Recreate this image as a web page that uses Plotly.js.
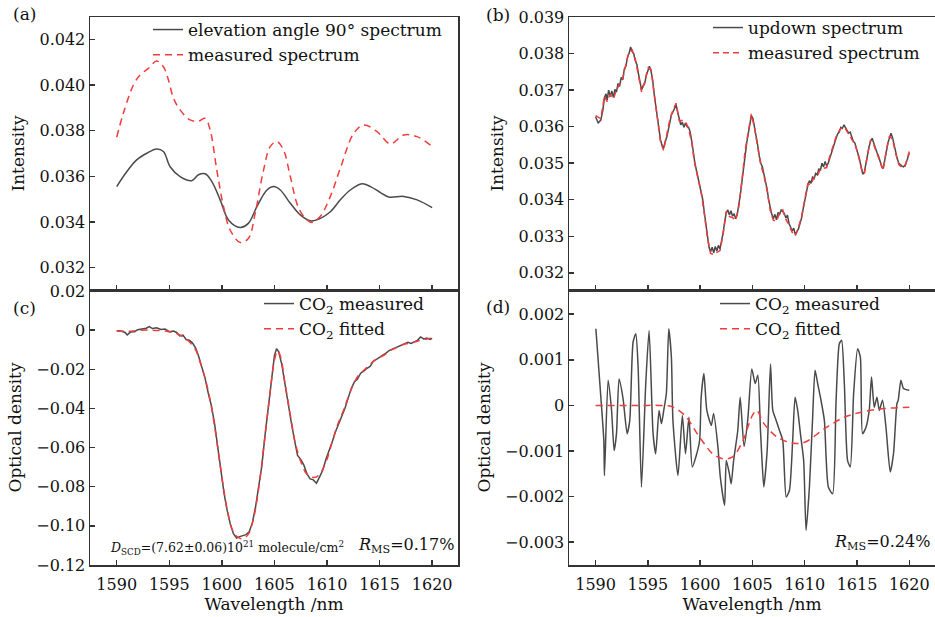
<!DOCTYPE html>
<html><head><meta charset="utf-8">
<script src="https://cdn.plot.ly/plotly-3.0.1.min.js"></script>
<style>html,body{margin:0;padding:0;background:#fff}#chart{width:935px;height:617px}</style>
</head><body><div id="chart"></div>
<script>
// ---------- Panel (a) ----------
const aElevX = [1590.0,1590.95,1591.9,1592.86,1593.8,1594.44,1595.08,1596.03,1597.14,1597.78,1598.41,1599.05,1599.84,1600.63,1601.75,1602.54,1603.33,1604.29,1604.92,1605.56,1606.51,1607.46,1608.41,1609.37,1610.32,1611.27,1612.22,1613.33,1614.13,1615.08,1615.87,1617.3,1618.57,1620.0];
const aElev = [0.03555,0.03620,0.03672,0.03701,0.03720,0.03709,0.03642,0.03599,0.03581,0.03607,0.03611,0.03577,0.03497,0.03409,0.03376,0.03395,0.03467,0.03540,0.03555,0.03540,0.03482,0.03431,0.03405,0.03416,0.03445,0.03497,0.03540,0.03567,0.03555,0.03529,0.03509,0.03512,0.03497,0.03463];
const aMeasX = [1590,1590.63,1591.59,1592.22,1593.02,1593.8,1594.44,1594.92,1595.4,1596.03,1596.98,1597.78,1598.41,1598.89,1599.52,1600.16,1600.79,1601.75,1602.54,1603.17,1603.97,1604.6,1605.24,1605.87,1606.51,1607.3,1608.1,1608.57,1609.37,1610.32,1611.27,1612.54,1613.49,1614.76,1616.03,1617.3,1618.57,1619.84];
const aMeas = [0.03771,0.03876,0.04000,0.04044,0.04073,0.04105,0.04080,0.04022,0.03942,0.03891,0.03847,0.03842,0.03854,0.03803,0.03628,0.03467,0.03365,0.03310,0.03329,0.03438,0.03628,0.03730,0.03752,0.03715,0.03599,0.03461,0.03409,0.03398,0.03425,0.03512,0.03636,0.03788,0.03825,0.03796,0.03742,0.03781,0.03774,0.03737];

// ---------- Panel (b) ----------
const bX = [1590.0,1590.25,1590.5,1590.7,1590.85,1591.0,1591.1,1591.25,1591.4,1591.55,
 1591.7,1591.85,1592.0,1592.15,1592.3,1592.45,1592.6,1592.75,1592.9,1593.05,
 1593.2,1593.35,1593.5,1593.65,1593.8,1593.95,1594.1,1594.25,1594.4,1594.55,
 1594.7,1594.85,1595.0,1595.15,1595.3,1595.45,1595.6,1595.75,1595.9,1596.05,
 1596.2,1596.35,1596.5,1596.65,1596.8,1596.95,1597.1,1597.25,1597.4,1597.55,
 1597.7,1597.85,1598.0,1598.15,1598.3,1598.45,1598.6,1598.75,1598.9,1599.05,
 1599.2,1599.35,1599.5,1599.65,1599.8,1599.95,1600.1,1600.25,1600.4,1600.55,
 1600.7,1600.85,1601.0,1601.15,1601.3,1601.45,1601.6,1601.75,1601.9,1602.05,
 1602.2,1602.35,1602.5,1602.65,1602.8,1602.95,1603.1,1603.25,1603.4,1603.55,
 1603.7,1603.85,1604.0,1604.15,1604.3,1604.45,1604.6,1604.75,1604.9,1605.05,
 1605.2,1605.35,1605.5,1605.65,1605.8,1605.95,1606.1,1606.25,1606.4,1606.55,
 1606.7,1606.85,1607.0,1607.15,1607.3,1607.45,1607.6,1607.75,1607.9,1608.05,
 1608.2,1608.35,1608.5,1608.65,1608.8,1608.95,1609.1,1609.25,1609.4,1609.55,
 1609.7,1609.85,1610.0,1610.15,1610.3,1610.45,1610.6,1610.75,1610.9,1611.05,
 1611.2,1611.35,1611.5,1611.65,1611.8,1611.95,1612.1,1612.25,1612.4,1612.55,
 1612.7,1612.85,1613.0,1613.15,1613.3,1613.45,1613.6,1613.75,1613.9,1614.05,
 1614.2,1614.35,1614.5,1614.65,1614.8,1614.95,1615.1,1615.25,1615.4,1615.55,
 1615.7,1615.85,1616.0,1616.15,1616.3,1616.45,1616.6,1616.75,1616.9,1617.05,
 1617.2,1617.35,1617.5,1617.65,1617.8,1617.95,1618.1,1618.25,1618.4,1618.55,
 1618.7,1618.85,1619.0,1619.15,1619.3,1619.45,1619.6,1619.75,1619.9,1620.0];
const bUpdown = [0.03627,0.03610,0.03618,0.03645,0.03680,0.03690,0.03672,0.03700,0.03682,0.03698,
 0.03680,0.03702,0.03695,0.03718,0.03710,0.03735,0.03728,0.03758,0.03765,0.03790,
 0.03800,0.03818,0.03805,0.03800,0.03780,0.03770,0.03745,0.03718,0.03700,0.03712,
 0.03718,0.03740,0.03755,0.03765,0.03752,0.03730,0.03690,0.03660,0.03620,0.03590,
 0.03565,0.03550,0.03540,0.03558,0.03570,0.03590,0.03615,0.03632,0.03640,0.03648,
 0.03660,0.03640,0.03620,0.03605,0.03612,0.03598,0.03610,0.03600,0.03598,0.03585,
 0.03560,0.03525,0.03500,0.03480,0.03462,0.03440,0.03425,0.03400,0.03365,0.03330,
 0.03300,0.03270,0.03258,0.03270,0.03255,0.03272,0.03260,0.03275,0.03265,0.03285,
 0.03310,0.03340,0.03365,0.03372,0.03358,0.03370,0.03355,0.03362,0.03348,0.03360,
 0.03385,0.03415,0.03450,0.03490,0.03530,0.03555,0.03580,0.03605,0.03630,0.03622,
 0.03600,0.03580,0.03550,0.03520,0.03500,0.03490,0.03470,0.03455,0.03430,0.03400,
 0.03375,0.03360,0.03348,0.03360,0.03345,0.03365,0.03360,0.03372,0.03368,0.03362,
 0.03350,0.03358,0.03335,0.03325,0.03315,0.03322,0.03305,0.03312,0.03320,0.03335,
 0.03350,0.03375,0.03400,0.03420,0.03440,0.03452,0.03445,0.03462,0.03458,0.03472,
 0.03468,0.03485,0.03480,0.03500,0.03490,0.03505,0.03492,0.03500,0.03515,0.03528,
 0.03540,0.03555,0.03568,0.03580,0.03585,0.03598,0.03595,0.03605,0.03598,0.03590,
 0.03582,0.03585,0.03570,0.03560,0.03555,0.03540,0.03530,0.03510,0.03490,0.03470,
 0.03475,0.03500,0.03525,0.03545,0.03560,0.03568,0.03555,0.03540,0.03530,0.03520,
 0.03505,0.03492,0.03485,0.03505,0.03530,0.03555,0.03570,0.03582,0.03570,0.03550,
 0.03530,0.03512,0.03500,0.03495,0.03492,0.03490,0.03495,0.03505,0.03518,0.03528];
const bMeasX = [1590.0,1590.5,1590.85,1591.1,1591.4,1591.7,1592.0,1592.3,1592.6,1592.9,
 1593.2,1593.5,1593.8,1594.1,1594.4,1594.7,1595.0,1595.3,1595.6,1595.9,
 1596.2,1596.5,1596.8,1597.1,1597.4,1597.7,1598.0,1598.3,1598.6,1598.9,
 1599.2,1599.5,1599.8,1600.1,1600.4,1600.7,1601.0,1601.3,1601.6,1601.9,
 1602.2,1602.5,1602.8,1603.1,1603.4,1603.7,1604.0,1604.3,1604.6,1604.9,
 1605.2,1605.5,1605.8,1606.1,1606.4,1606.7,1607.0,1607.3,1607.6,1607.9,
 1608.2,1608.5,1608.8,1609.1,1609.4,1609.7,1610.0,1610.3,1610.6,1610.9,
 1611.2,1611.5,1611.8,1612.1,1612.4,1612.7,1613.0,1613.3,1613.6,1613.9,
 1614.2,1614.5,1614.8,1615.1,1615.4,1615.7,1616.0,1616.3,1616.6,1616.9,
 1617.2,1617.5,1617.8,1618.1,1618.4,1618.7,1619.0,1619.3,1619.6,1620.0];
const bMeas = [0.03630,0.03622,0.03684,0.03668,0.03688,0.03676,0.03700,0.03715,0.03733,0.03770,
 0.03805,0.03810,0.03785,0.03740,0.03695,0.03722,0.03760,0.03757,0.03686,0.03616,
 0.03561,0.03535,0.03574,0.03619,0.03645,0.03664,0.03616,0.03617,0.03614,0.03594,
 0.03556,0.03496,0.03458,0.03421,0.03361,0.03296,0.03253,0.03250,0.03256,0.03261,
 0.03306,0.03369,0.03354,0.03351,0.03344,0.03381,0.03454,0.03534,0.03584,0.03635,
 0.03596,0.03546,0.03496,0.03466,0.03426,0.03371,0.03344,0.03341,0.03364,0.03372,
 0.03346,0.03331,0.03311,0.03301,0.03324,0.03354,0.03404,0.03444,0.03441,0.03462,
 0.03464,0.03484,0.03486,0.03488,0.03519,0.03544,0.03572,0.03589,0.03599,0.03594,
 0.03578,0.03566,0.03551,0.03526,0.03486,0.03471,0.03521,0.03564,0.03551,0.03526,
 0.03501,0.03481,0.03534,0.03574,0.03566,0.03526,0.03496,0.03488,0.03491,0.03532];

// ---------- Panel (c) ----------
const cMeasX = [1590.0,1590.4,1590.8,1591.0,1591.3,1591.7,1592.0,1592.4,1592.8,1593.1,1593.4,1593.8,1594.2,1594.6,1595.0,1595.4,1595.7,1596.0,1596.3,1596.6,1596.9,1597.2,1597.5,1597.8,1598.1,1598.4,1598.7,1599.0,1599.3,1599.6,1599.9,1600.2,1600.5,1600.8,1601.1,1601.4,1601.7,1602.0,1602.3,1602.6,1602.9,1603.2,1603.5,1603.8,1604.1,1604.4,1604.7,1605.0,1605.2,1605.4,1605.7,1606.0,1606.3,1606.6,1606.9,1607.2,1607.5,1607.8,1608.1,1608.4,1608.7,1609.0,1609.3,1609.6,1609.9,1610.2,1610.5,1610.8,1611.1,1611.4,1611.7,1612.0,1612.3,1612.6,1612.9,1613.2,1613.5,1613.8,1614.1,1614.4,1614.7,1615.0,1615.3,1615.6,1615.9,1616.2,1616.5,1616.8,1617.1,1617.4,1617.7,1618.0,1618.3,1618.6,1618.9,1619.2,1619.5,1619.8,1620.0];
const cMeas = [-0.0003,-0.0005,-0.0012,-0.0025,-0.0010,-0.0008,0.0002,0.0005,0.0010,0.0018,0.0008,0.0012,0.0003,0.0006,-0.0008,-0.0005,-0.0012,-0.0030,-0.0025,-0.0048,-0.0052,-0.0065,-0.0090,-0.0135,-0.0190,-0.0245,-0.0320,-0.0385,-0.0475,-0.0600,-0.0720,-0.0830,-0.0920,-0.0990,-0.1040,-0.1062,-0.1055,-0.1050,-0.1045,-0.1030,-0.0985,-0.0905,-0.0810,-0.0695,-0.0540,-0.0400,-0.0240,-0.0130,-0.0095,-0.0110,-0.0175,-0.0280,-0.0370,-0.0470,-0.0560,-0.0640,-0.0660,-0.0690,-0.0735,-0.0760,-0.0765,-0.0782,-0.0750,-0.0715,-0.0660,-0.0620,-0.0570,-0.0520,-0.0480,-0.0445,-0.0400,-0.0350,-0.0300,-0.0265,-0.0250,-0.0220,-0.0210,-0.0195,-0.0185,-0.0160,-0.0150,-0.0140,-0.0132,-0.0118,-0.0105,-0.0098,-0.0090,-0.0082,-0.0075,-0.0070,-0.0062,-0.0068,-0.0060,-0.0052,-0.0035,-0.0045,-0.0040,-0.0048,-0.0042];
const cFitX = [1590,1591,1592,1593,1594,1595,1595.8,1596.5,1597.0,1597.5,1598.0,1598.5,1599.0,1599.5,1600.0,1600.5,1601.0,1601.5,1602.0,1602.5,1603.0,1603.5,1604.0,1604.5,1605.0,1605.3,1605.6,1606.0,1606.5,1607.0,1607.5,1608.0,1608.5,1609.0,1609.5,1610.0,1610.5,1611.0,1611.5,1612.0,1612.5,1613.0,1613.5,1614.0,1614.5,1615.0,1615.5,1616.0,1616.5,1617.0,1617.5,1618.0,1618.5,1619.0,1619.5,1620.0];
const cFit = [-0.0004,-0.0006,-0.0002,0.0000,-0.0002,-0.0008,-0.0020,-0.0040,-0.0065,-0.0100,-0.0175,-0.0265,-0.0390,-0.0560,-0.0750,-0.0915,-0.1020,-0.1058,-0.1065,-0.1045,-0.0965,-0.0810,-0.0590,-0.0360,-0.0155,-0.0105,-0.0140,-0.0270,-0.0430,-0.0580,-0.0670,-0.0730,-0.0750,-0.0750,-0.0720,-0.0660,-0.0570,-0.0485,-0.0420,-0.0345,-0.0280,-0.0230,-0.0205,-0.0180,-0.0155,-0.0140,-0.0125,-0.0105,-0.0092,-0.0078,-0.0070,-0.0065,-0.0058,-0.0050,-0.0045,-0.0040];

// ---------- Panel (d) ----------
const dMeasX = [1590.03,1590.41,1590.79,1590.85,1591.2,1591.53,1591.78,1592.0,1592.25,1592.63,1593.02,1593.27,1593.59,1593.85,1594.07,1594.39,1594.8,1595.12,1595.5,1595.75,1596.07,1596.3,1596.52,1596.77,1597.0,1597.25,1597.4,1597.88,1598.3,1598.6,1598.93,1599.25,1599.63,1599.95,1600.1,1600.36,1600.64,1601.07,1601.29,1601.7,1601.93,1602.34,1602.5,1602.8,1602.97,1603.2,1603.6,1603.83,1604.2,1604.56,1604.94,1605.27,1605.52,1605.77,1605.9,1606.09,1606.41,1606.73,1606.95,1607.27,1607.59,1607.9,1608.23,1608.54,1608.85,1609.08,1609.33,1609.59,1609.9,1610.13,1610.45,1610.76,1610.99,1611.24,1611.56,1611.88,1612.26,1612.67,1613.0,1613.31,1613.53,1613.79,1614.1,1614.36,1614.68,1615.06,1615.32,1615.53,1615.86,1616.17,1616.39,1616.65,1616.91,1617.13,1617.44,1617.77,1618.18,1618.49,1618.82,1618.94,1619.2,1619.45,1620.0];
const dMeas = [0.00168,0.00048,-0.00077,-0.00154,0.00055,-0.00011,-0.00099,-0.00062,0.00058,0.00015,-0.00062,-0.00033,0.00139,0.00157,0.00084,-0.00179,0.00048,0.00164,-0.00062,-0.00106,-0.00011,-0.00040,-0.00011,0.00026,0.00168,0.00106,-0.00033,-0.00154,-0.00022,-0.00106,-0.00026,-0.00135,-0.00110,-0.00077,0.00018,0.00070,-0.00011,-0.00044,-0.00018,-0.00091,-0.00157,-0.00219,-0.00121,-0.00150,-0.00172,-0.00121,-0.00055,0.00018,-0.00090,-0.00030,0.00080,0.00048,0.00066,-0.00055,-0.00113,-0.00179,-0.00099,0.00091,-0.00011,-0.00033,-0.00055,-0.00077,-0.00201,-0.00186,-0.00077,0.00018,-0.00011,-0.00062,-0.00121,-0.00274,-0.00179,-0.00026,0.00077,0.00048,0.00011,-0.00033,-0.00179,-0.00194,0.00011,0.00135,0.00143,0.00048,-0.00121,-0.00135,0.00026,0.00124,0.00106,-0.00062,-0.00048,-0.00011,0.00062,-0.00004,0.00018,-0.00011,0.00011,-0.00048,-0.00146,-0.00106,0.00004,0.00011,0.00055,0.00037,0.00033];
const dFitX = [1590,1591,1592,1593,1594,1595,1596,1597,1597.7,1598.7,1599.6,1600.4,1601.2,1602.2,1603.1,1604.1,1604.6,1605.0,1605.4,1606.1,1607.4,1608.9,1610.0,1611.9,1613.8,1615.4,1617.6,1620.0];
const dFit = [0,0,0,0,0,0,0,-0.00001,-0.00007,-0.00026,-0.00058,-0.00084,-0.00106,-0.00117,-0.00113,-0.00077,-0.00045,-0.00022,-0.00011,-0.00040,-0.00070,-0.00083,-0.00081,-0.00051,-0.00026,-0.00015,-0.00007,-0.00004];

// ---------- Tick labels ----------
const aTickVals = [0.032,0.034,0.036,0.038,0.040,0.042];
const aTickText = ['0.032','0.034','0.036','0.038','0.040','0.042'];
const bTickVals = [0.032,0.033,0.034,0.035,0.036,0.037,0.038,0.039];
const bTickText = ['0.032','0.033','0.034','0.035','0.036','0.037','0.038','0.039'];
const cTickVals = [0.02,0,-0.02,-0.04,-0.06,-0.08,-0.10,-0.12];
const cTickText = ['0.02','0','\u22120.02','\u22120.04','\u22120.06','\u22120.08','\u22120.10','\u22120.12'];
const dTickVals = [0.002,0.001,0,-0.001,-0.002,-0.003];
const dTickText = ['0.002','0.001','0','\u22120.001','\u22120.002','\u22120.003'];
const xTickVals = [1590,1595,1600,1605,1610,1615,1620];

const FONT = 'DejaVu Serif';
const INK = '#111';
const BLACK = '#4a4a4a';
const RED = '#f03c3c';
const W = 935, H = 617;
const px = v => v / W, py = v => 1 - v / H;

const traces = [
  {x: aElevX, y: aElev, xaxis:'x', yaxis:'y', mode:'lines', line:{color:BLACK,width:1.5,shape:'spline'}, name:'elevation angle 90° spectrum', legend:'legend'},
  {x: aMeasX, y: aMeas, xaxis:'x', yaxis:'y', mode:'lines', line:{color:RED,width:1.5,dash:'7px,5px',shape:'spline'}, name:'measured spectrum', legend:'legend'},
  {x: bX, y: bUpdown, xaxis:'x2', yaxis:'y2', mode:'lines', line:{color:BLACK,width:1.5}, name:'updown spectrum', legend:'legend2'},
  {x: bMeasX, y: bMeas, xaxis:'x2', yaxis:'y2', mode:'lines', line:{color:RED,width:1.5,dash:'6px,4px'}, name:'measured spectrum', legend:'legend2'},
  {x: cMeasX, y: cMeas, xaxis:'x3', yaxis:'y3', mode:'lines', line:{color:BLACK,width:1.5}, name:'CO<sub>2</sub> measured', legend:'legend3'},
  {x: cFitX, y: cFit, xaxis:'x3', yaxis:'y3', mode:'lines', line:{color:RED,width:1.5,dash:'7px,5px',shape:'spline'}, name:'CO<sub>2</sub> fitted', legend:'legend3'},
  {x: dMeasX, y: dMeas, xaxis:'x4', yaxis:'y4', mode:'lines', line:{color:BLACK,width:1.5,shape:'spline',smoothing:0.6}, name:'CO<sub>2</sub> measured', legend:'legend4'},
  {x: dFitX, y: dFit, xaxis:'x4', yaxis:'y4', mode:'lines', line:{color:RED,width:1.5,dash:'7px,5px',shape:'spline'}, name:'CO<sub>2</sub> fitted', legend:'legend4'}
];

const TICKF = {family: FONT, size: 16, color: INK};
const TITLEF = {family: FONT, size: 17, color: INK};
function xAx(domain, anchor, labels) {
  const ax = {domain, anchor, range:[1587.46,1622.46], tickvals:xTickVals, ticks:'inside', ticklen:5, tickwidth:1.5, tickcolor:'#333',
    showline:true, linecolor:'#333', linewidth:1.5, mirror:true, showgrid:false, zeroline:false,
    showticklabels:labels, tickfont:TICKF, ticklabelstandoff:4};
  if (labels) ax.title = {text:'Wavelength /nm', font:TITLEF, standoff:0};
  return ax;
}
function yAx(domain, anchor, range, vals, text, title) {
  return {domain, anchor, range, tickvals:vals, ticktext:text, ticks:'inside', ticklen:5, tickwidth:1.5, tickcolor:'#333',
    showline:true, linecolor:'#333', linewidth:1.5, mirror:true, showgrid:false, zeroline:false, tickfont:TICKF,
    title:{text:title, font:TITLEF, standoff:10}};
}
const xL = [px(90), px(458)], xR = [px(569), 1];
const yT = [py(290), py(17)], yB = [py(565), py(290)];

const LEGF = {family: FONT, size: 17, color: INK};
function leg(x, y) { return {x, y, xanchor:'left', yanchor:'top', bgcolor:'rgba(0,0,0,0)', font:LEGF, tracegroupgap:0, itemwidth:30}; }

function note(text, x, y, size, xanchor) {
  return {text, x:px(x), y:py(y), xanchor:xanchor||'center', yanchor:'middle', xref:'paper', yref:'paper', showarrow:false, font:{family:FONT,size,color:INK}};
}

const layout = {
  width: W, height: H, margin:{l:0,r:0,t:0,b:0}, paper_bgcolor:'#fff', plot_bgcolor:'#fff',
  font:{family: FONT, color: INK},
  showlegend:true,
  xaxis: xAx(xL,'y',false), yaxis: yAx(yT,'x',[0.03102,0.04298],aTickVals,aTickText,'Intensity'),
  xaxis2: xAx(xR,'y2',false), yaxis2: yAx(yT,'x2',[0.03153,0.0390],bTickVals,bTickText,'Intensity'),
  xaxis3: xAx(xL,'y3',true), yaxis3: yAx(yB,'x3',[-0.1200,0.0205],cTickVals,cTickText,'Optical density'),
  xaxis4: xAx(xR,'y4',true), yaxis4: yAx(yB,'x4',[-0.0035,0.00253],dTickVals,dTickText,'Optical density'),
  legend: leg(px(148), py(12)),
  legend2: leg(px(708), py(10)),
  legend3: leg(px(259), py(286)),
  legend4: leg(px(715), py(286)),
  annotations: [
    note('(a)', 24, 14, 17),
    note('(b)', 498, 15, 17),
    note('(c)', 24, 308, 17),
    note('(d)', 498, 307, 17),
    note('<i>D</i><sub>SCD</sub>=(7.62±0.06)10<sup>21</sup> molecule/cm<sup>2</sup>', 108, 548, 12.5, 'left'),
    note('<i>R</i><sub>MS</sub>=0.17%', 456, 545, 16, 'right'),
    note('<i>R</i><sub>MS</sub>=0.24%', 932, 542, 16, 'right')
  ]
};
Plotly.newPlot('chart', traces, layout, {displayModeBar:false, staticPlot:true});
</script></body></html>
